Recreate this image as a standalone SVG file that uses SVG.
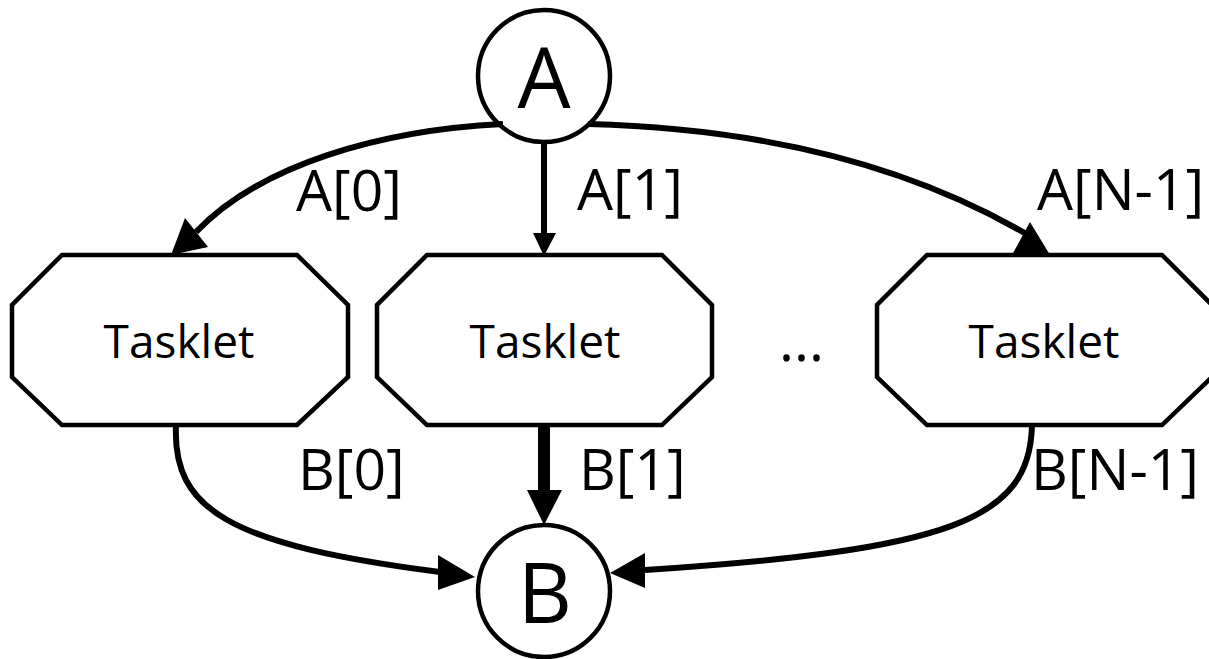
<svg xmlns="http://www.w3.org/2000/svg" width="1209" height="659" viewBox="0 0 1209 659">
<style>
.node{fill:#fff;stroke:#000;stroke-width:4.5}
.t{font-family:"Open Sans","Liberation Sans",sans-serif;fill:#000}
.big{font-size:84px;text-anchor:middle}
.tk{font-size:46px;text-anchor:middle}
.lbl{font-size:57px}
.edge{fill:none;stroke:#000;stroke-width:6}
.head{fill:#000;stroke:none}
</style>
<rect width="1209" height="659" fill="#fff"/>
<g id="nodeA"><circle class="node" cx="544" cy="76" r="66"/><text class="t big" x="544" y="108">A</text></g>
<g id="nodeB"><circle class="node" cx="544" cy="591" r="66"/><text class="t big" x="545" y="623">B</text></g>
<g id="tasklet0"><polygon class="node" points="62,255 297,255 348,305 348,377 297,425 62,425 12,377 12,305"/><text class="t tk" x="179" y="358">Tasklet</text></g>
<g id="tasklet1"><polygon class="node" points="427,255 662,255 712,305 712,377 662,425 427,425 377,377 377,305"/><text class="t tk" x="545" y="358">Tasklet</text></g>
<g id="tasklet2"><polygon class="node" points="927,255 1162,255 1212,305 1212,377 1162,425 927,425 877,377 877,305"/><text class="t tk" x="1044" y="358">Tasklet</text></g>
<g id="ellipsis"><text class="t lbl" x="779" y="361">...</text></g>
<g id="connectors">
<path class="edge" d="M503 124 C380 130 260 165 196 232"/>
<polygon class="head" points="171,255 185,218 208,247"/>
<path class="edge" d="M544 143 L544 236"/>
<polygon class="head" points="533,233 556,233 544,256"/>
<path class="edge" d="M588 124 C750 128 900 160 1028 235"/>
<polygon class="head" points="1030,222 1012,255 1050,255"/>
<path class="edge" d="M176 425 C172 510 230 545 440 572"/>
<polygon class="head" points="475,577 438,555 438,590"/>
<path class="edge" style="stroke-width:12" d="M544 425 L544 492"/>
<polygon class="head" points="527,490 562,490 544,525"/>
<path class="edge" d="M1032 425 C1030 520 950 550 645 570"/>
<polygon class="head" points="610,573 645,553 645,588"/>
</g>
<g id="labels">
<text class="t lbl" x="296" y="211">A[0]</text>
<text class="t lbl" x="577" y="210">A[1]</text>
<text class="t lbl" x="1037" y="210">A[N-1]</text>
<text class="t lbl" x="298" y="490">B[0]</text>
<text class="t lbl" x="579" y="490">B[1]</text>
<text class="t lbl" x="1031" y="490">B[N-1]</text>
</g>
</svg>
